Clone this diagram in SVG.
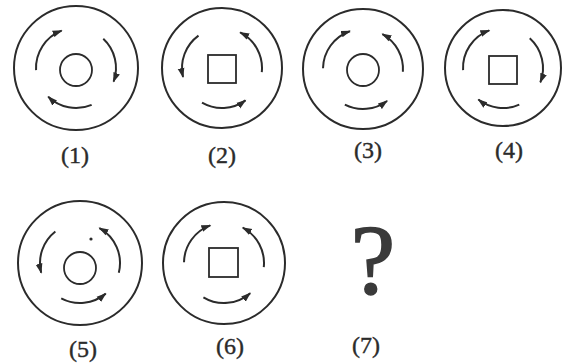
<svg xmlns="http://www.w3.org/2000/svg" width="568" height="364" viewBox="0 0 568 364">
<defs>
<marker id="ah" markerUnits="userSpaceOnUse" markerWidth="11" markerHeight="8" refX="9" refY="4" orient="auto">
<path d="M0,0.6 L10,4 L0,7.4 z" fill="#2b2b2b"/>
</marker>
</defs>
<style>
.outer{fill:none;stroke:#2b2b2b;stroke-width:2}
.inner{fill:none;stroke:#2b2b2b;stroke-width:1.8}
.arc{fill:none;stroke:#2b2b2b;stroke-width:2;marker-end:url(#ah)}
.lbl{font-family:"Liberation Serif","Times New Roman",serif;font-size:24px;fill:#2b2b2b;stroke:#2b2b2b;stroke-width:0.4;text-anchor:middle}
</style>
<rect width="568" height="364" fill="#ffffff"/>
<g id="fig1">
<circle class="outer" cx="76" cy="68" r="62"/>
<circle class="inner" cx="76" cy="70" r="16"/>
<text class="lbl" x="75" y="163">(1)</text>
</g>
<g id="fig2">
<circle class="outer" cx="222" cy="68" r="60"/>
<rect class="inner" x="208" y="55" width="28" height="28"/>
<text class="lbl" x="222" y="163">(2)</text>
</g>
<g id="fig3">
<circle class="outer" cx="363" cy="69" r="60"/>
<circle class="inner" cx="363" cy="70" r="16"/>
<text class="lbl" x="368" y="158">(3)</text>
</g>
<g id="fig4">
<circle class="outer" cx="503" cy="68" r="58"/>
<rect class="inner" x="489" y="56" width="28" height="28"/>
<text class="lbl" x="509" y="158">(4)</text>
</g>
<g id="fig5">
<circle class="outer" cx="80" cy="263" r="62"/>
<circle class="inner" cx="80" cy="268" r="16"/>
<circle cx="91" cy="239" r="1.6" fill="#2b2b2b"/>
<text class="lbl" x="83" y="357">(5)</text>
</g>
<g id="fig6">
<circle class="outer" cx="224" cy="263" r="61"/>
<rect class="inner" x="209" y="248" width="29" height="29"/>
<text class="lbl" x="230" y="354">(6)</text>
</g>
<g id="fig7">
<text x="373" y="293" style="font-family:'Liberation Serif','Times New Roman',serif;font-size:100px;fill:#3a3a3a;stroke:#3a3a3a;stroke-width:1.6;text-anchor:middle">?</text>
<text class="lbl" x="366" y="353">(7)</text>
</g>
<g id="connectors">
<path class="arc" d="M36.06,70.09 A40,40 0 0 1 61.66,30.66"/>
<path class="arc" d="M103.28,38.74 A40,40 0 0 1 113.59,81.68"/>
<path class="arc" d="M91.63,104.82 A40,40 0 0 1 48.21,96.77"/>
<path class="arc" d="M198.49,35.64 A40,40 0 0 0 183.02,77"/>
<path class="arc" d="M261.78,72.18 A40,40 0 0 0 240.16,32.36"/>
<path class="arc" d="M202,102.64 A40,40 0 0 0 245.51,100.36"/>
<path class="arc" d="M323.01,68.3 A40,40 0 0 1 349.98,31.18"/>
<path class="arc" d="M402.9,71.79 A40,40 0 0 0 382.39,34.02"/>
<path class="arc" d="M344.84,104.64 A40,40 0 0 0 387.07,100.94"/>
<path class="arc" d="M463.06,70.09 A40,40 0 0 1 489.32,30.41"/>
<path class="arc" d="M529.76,38.28 A40,40 0 0 1 540.34,82.34"/>
<path class="arc" d="M519.27,104.54 A40,40 0 0 1 478.37,99.52"/>
<path class="arc" d="M55.37,231.48 A40,40 0 0 0 41.19,272.68"/>
<path class="arc" d="M118.81,272.68 A40,40 0 0 0 99.39,228.02"/>
<path class="arc" d="M61.22,298.32 A40,40 0 0 0 105.71,293.64"/>
<path class="arc" d="M184.01,262.3 A40,40 0 0 1 210.32,225.41"/>
<path class="arc" d="M263.78,267.18 A40,40 0 0 0 242.78,227.68"/>
<path class="arc" d="M203.4,297.29 A40,40 0 0 0 250.24,293.19"/>
</g>
</svg>
